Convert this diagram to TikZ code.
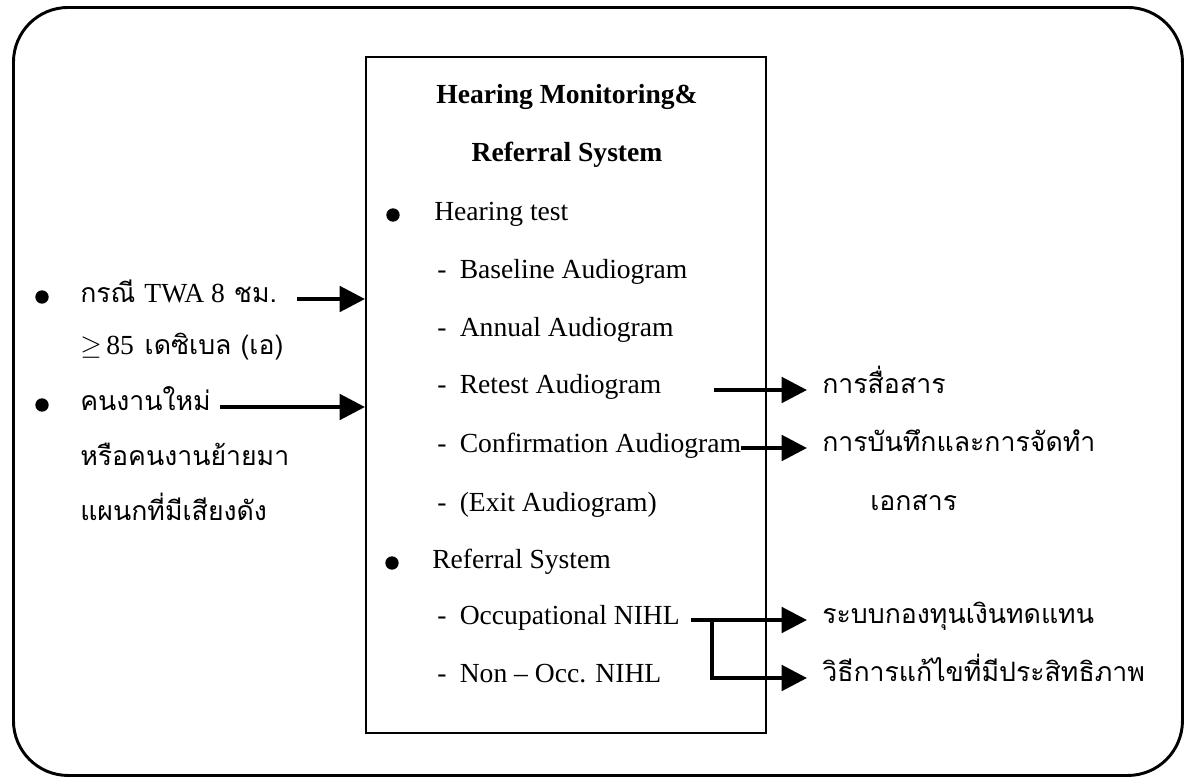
\documentclass[tikz,border=0pt]{standalone}
\usepackage{fontspec}
\setmainfont{Liberation Serif}
\newfontfamily\thaifont[Script=Thai]{Loma}
\usetikzlibrary{arrows.meta,calc}
\begin{document}
\begin{tikzpicture}[x=0.75pt,y=-0.75pt,
  txt/.style={inner sep=0pt, anchor=west, text height=0.7em, text depth=0.25em,
    font=\fontsize{20.7}{24}\selectfont},
  thtxt/.style={txt, font=\fontsize{20}{24}\selectfont\thaifont},
  titletxt/.style={txt, anchor=center, font=\fontsize{20.7}{24}\selectfont\bfseries},
  dot/.style={circle, fill=black, inner sep=0pt, minimum size=10pt},
  frame/.style={draw, line width=2.2pt, rounded corners=41pt, inner sep=0pt,
    anchor=north west, minimum width=876.75pt, minimum height=576pt},
  panel/.style={draw, line width=1.8pt, inner sep=0pt, anchor=north west,
    minimum width=300pt, minimum height=507pt},
  arr/.style={line width=3pt, -{Triangle[length=19pt,width=19pt]}},
]
\useasboundingbox[fill=white] (0,0) rectangle (1186,778);

% outer frame and central panel
\node[frame] (outer) at (12,6) {};
\node[panel] (box) at (365,56) {};

% panel contents
\node[titletxt] (t1) at (567,100) {Hearing Monitoring\&};
\node[titletxt] (t2) at (567,158) {Referral System};
\node[dot] (b1) at (393,215) {};
\node[txt] (h1) at (434,217) {Hearing test};
\node[txt] (r1) at (437,275) {-\hspace{10pt}Baseline Audiogram};
\node[txt] (r2) at (437,333) {-\hspace{10pt}Annual Audiogram};
\node[txt] (r3) at (437,390) {-\hspace{10pt}Retest Audiogram};
\node[txt] (r4) at (437,449) {-\hspace{10pt}Confirmation Audiogram};
\node[txt] (r5) at (437,508) {-\hspace{10pt}(Exit Audiogram)};
\node[dot] (b2) at (392,563) {};
\node[txt] (h2) at (432,565) {Referral System};
\node[txt] (r6) at (437,621) {-\hspace{10pt}Occupational NIHL};
\node[txt] (r7) at (437,679) {-\hspace{10pt}Non -- Occ. NIHL};

% inputs on the left
\node[dot] (b3) at (42,297) {};
\node[thtxt] (l1) at (80,299) {กรณี {\fontsize{20.7}{24}\rmfamily TWA 8} ชม.};
\node[txt] (l2) at (80,351) {\(\geq\)\,85\hspace{8pt}{\thaifont\fontsize{20}{24}\selectfont เดซิเบล (เอ)}};
\node[dot] (b4) at (42,405) {};
\node[thtxt] (l3) at (80,407) {คนงานใหม่};
\node[thtxt] (l4) at (80,462) {หรือคนงานย้ายมา};
\node[thtxt] (l5) at (80,517) {แผนกที่มีเสียงดัง};

% outputs on the right
\node[thtxt] (o1) at (822,390) {การสื่อสาร};
\node[thtxt] (o2) at (822,448) {การบันทึกและการจัดทำ};
\node[thtxt] (o3) at (870,507) {เอกสาร};
\node[thtxt] (o4) at (822,620) {ระบบกองทุนเงินทดแทน};
\node[thtxt] (o5) at (822,678) {วิธีการแก้ไขที่มีประสิทธิภาพ};

% connectors
\draw[arr] ($(box.west |- l1.west)+(-68,0)$) -- (box.west |- l1.west);
\draw[arr] ($(box.west |- l3.west)+(-145,0)$) -- (box.west |- l3.west);
\draw[arr] ($(box.east |- o1.west)+(-53,0)$) -- ($(o1.west)+(-15,0)$);
\draw[arr] (r4.east |- o2.west) -- ($(o2.west)+(-15,0)$);
\draw[arr] ($(r6.east |- o4.west)+(11,0)$) -- ($(o4.west)+(-15,0)$);
\draw[arr] ($(box.east |- o4.west)+(-55,0)$) |- ($(o5.west)+(-15,0)$);
\end{tikzpicture}
\end{document}
